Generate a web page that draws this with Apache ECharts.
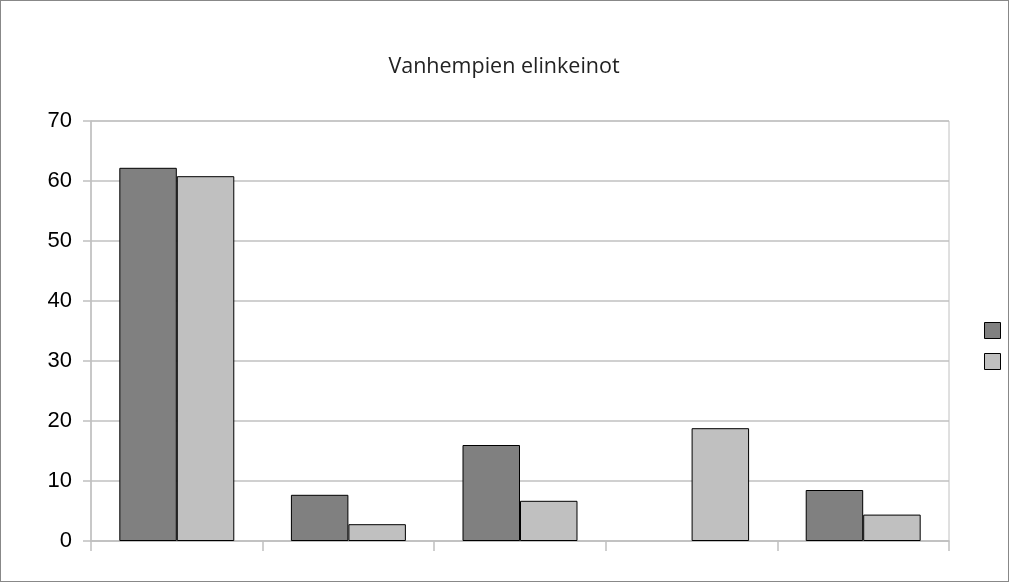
<!DOCTYPE html>
<html><head><meta charset="utf-8">
<script src="https://cdn.jsdelivr.net/npm/echarts@6/dist/echarts.min.js"></script>
<style>html,body{margin:0;padding:0;background:#fff}#c{width:1009px;height:582px;box-sizing:border-box;border:1px solid #888}</style>
</head><body><div id="c"></div>
<script>
const categories = ['1', '2', '3', '4', '5'];
const series1 = [62.2, 7.7, 16.0, null, 8.5];
const series2 = [60.8, 2.8, 6.7, 18.8, 4.4];
const yTicks = { min: 0, max: 70, interval: 10 };
const chart = echarts.init(document.getElementById('c'));
chart.setOption({
  animation: false,
  title: { text: 'Vanhempien elinkeinot', left: 498, top: 50, textAlign: 'center',
    textStyle: { fontFamily: 'Open Sans', fontWeight: 'normal', fontSize: 21.5, color: '#222' } },
  legend: { orient: 'vertical', left: 978, top: 316, itemWidth: 16, itemHeight: 16, itemGap: 14,
    icon: 'rect', formatter: () => '', textStyle: { fontSize: 1 },
    data: [
      { name: 'S1', itemStyle: { color: '#808080', borderColor: '#000', borderWidth: 1 } },
      { name: 'S2', itemStyle: { color: '#c0c0c0', borderColor: '#000', borderWidth: 1 } }
    ] },
  grid: { left: 90, top: 120, width: 858, height: 420, show: true, borderColor: '#c0c0c0', borderWidth: 1 },
  xAxis: { type: 'category', data: categories,
    axisLine: { lineStyle: { color: '#c0c0c0', width: 1.5 } },
    axisTick: { show: true, length: 10, lineStyle: { color: '#c0c0c0', width: 1.5 } },
    axisLabel: { show: false } },
  yAxis: { type: 'value', min: yTicks.min, max: yTicks.max, interval: yTicks.interval,
    axisLine: { show: true, lineStyle: { color: '#c0c0c0', width: 1.5 } },
    axisTick: { show: true, length: 8, lineStyle: { color: '#c0c0c0', width: 1.5 } },
    splitLine: { lineStyle: { color: '#c0c0c0', width: 1.5 } },
    axisLabel: { fontFamily: 'Liberation Sans', fontSize: 22, color: '#000', margin: 19 } },
  series: [
    { name: 'S1', type: 'bar', data: series1, barGap: '0%', barCategoryGap: '33%',
      itemStyle: { color: '#808080', borderColor: '#000', borderWidth: 1 } },
    { name: 'S2', type: 'bar', data: series2,
      itemStyle: { color: '#c0c0c0', borderColor: '#000', borderWidth: 1 } }
  ]
});
</script></body></html>
